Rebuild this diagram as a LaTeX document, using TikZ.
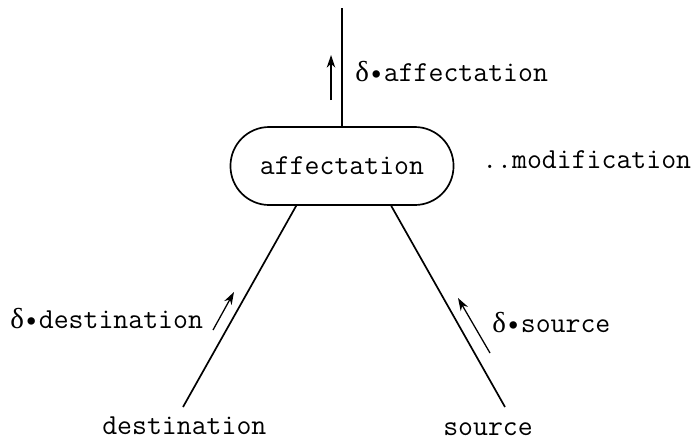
\documentclass[tikz,border=0pt]{standalone}
\usepackage{fontspec}
\newfontfamily\grkfont{Liberation Serif}
\usetikzlibrary{arrows.meta}
\newcommand{\dlt}{{\grkfont δ}\textbullet}

\begin{document}
\begin{tikzpicture}[x=0.025cm,y=-0.025cm,
    font=\ttfamily\fontsize{20.6}{24}\selectfont,
    leg/.style={line width=1.2pt},
    darr/.style={-{Stealth[length=9pt,width=6pt]},line width=0.9pt},
    lbl/.style={anchor=base west,inner sep=0pt}]
  \useasboundingbox (0,0) rectangle (694,442);
  \node[draw,line width=1.2pt,rounded corners=0.97cm,minimum width=5.575cm,
        minimum height=1.95cm] (aff) at (342,166) {affectation};
  \coordinate (top) at (342,8);
  \coordinate (dst) at (183,407);
  \coordinate (src) at (505,407);
  \draw[leg] (aff.north) -- (top);
  \draw[leg] (aff.221) -- (dst);
  \draw[leg] (aff.321) -- (src);
  % labels
  \node[lbl] (daff) at (355,81) {\dlt affectation};
  \node[lbl] (modif) at (482,168) {..modification};
  \node[lbl] (ddst) at (10,328) {\dlt destination};
  \node[lbl] (dsrc) at (492,332) {\dlt source};
  \node[lbl] (ndst) at (102,434) {destination};
  \node[lbl] (nsrc) at (443,435) {source};
  % small arrows
  \draw[darr] (331,100) -- (331,55);
  \draw[darr] (213,330) -- (234,292);
  \draw[darr] (490,353) -- (458,298);
\end{tikzpicture}
\end{document}
